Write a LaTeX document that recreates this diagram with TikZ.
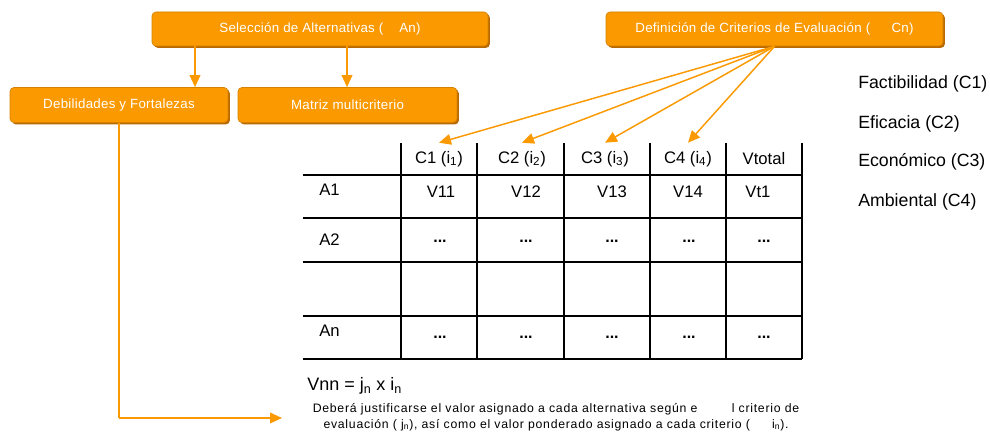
\documentclass[tikz,border=0pt]{standalone}
\usepackage{fontspec}
\setmainfont{Liberation Sans}
\usetikzlibrary{arrows.meta,calc,shadows}
\definecolor{org}{RGB}{250,153,0}
\definecolor{orgdark}{RGB}{185,105,0}
\begin{document}
\begin{tikzpicture}[x=0.75pt,y=-0.75pt,
  obox/.style={draw=org!85!black, line width=0.5pt, fill=org, rounded corners=3pt, text=white,
    font=\fontsize{10}{12}\selectfont\addfontfeatures{LetterSpace=2}, inner sep=0pt, minimum height=25.5pt,
    drop shadow={shadow xshift=1.4pt, shadow yshift=-1.4pt, fill=orgdark, opacity=1}},
  oarrow/.style={draw=org, line width=1.1pt, -{Triangle[length=9pt,width=8pt]}},
  oline/.style={draw=org, line width=1.1pt},
  grid/.style={draw=black, line width=1pt},
  cell/.style={inner sep=0pt, font=\fontsize{12.5}{14}\selectfont},
  dots/.style={inner sep=0pt, font=\fontsize{12}{14}\selectfont\bfseries},
  crit/.style={anchor=west, inner sep=0pt, font=\fontsize{13.3}{15}\selectfont},
  hdr/.style={cell, minimum height=24pt}
]
\useasboundingbox (0,0) rectangle (990,435);

% boxes
\node[obox, minimum width=252pt] (sel) at (320,29) {Selección de Alternativas (\hspace{1.2em}An)};
\node[obox, minimum width=252.75pt] (def) at (774.5,29) {Definición de Criterios de Evaluación (\hspace{1.6em}Cn)};
\node[obox, minimum width=163.5pt, minimum height=26.25pt] (deb) at (119,105) {Debilidades y Fortalezas};
\node[obox, minimum width=164.25pt, minimum height=26.25pt] (mat) at (347.5,105) {Matriz multicriterio};

% arrows from Selección
\coordinate (a1) at (195,0);
\coordinate (a2) at (347,0);
\draw[oarrow] (sel.south -| a1) -- (deb.north -| a1);
\draw[oarrow] (sel.south -| a2) -- (mat.north -| a2);

% table grid
\foreach \yy in {175,218,262,316,359} \draw[grid] (303,\yy) -- (802,\yy);
\foreach \xx in {401,477,564,650,726,802} \draw[grid] (\xx,143) -- (\xx,359);

% header
\node[hdr] (h1) at (439,159) {C1 (i\textsubscript{1})};
\node[hdr] (h2) at (522,159) {C2 (i\textsubscript{2})};
\node[hdr] (h3) at (605,159) {C3 (i\textsubscript{3})};
\node[hdr] (h4) at (688,159) {C4 (i\textsubscript{4})};
\node[hdr] (h5) at (764,159) {Vtotal};

% arrows from Definición
\draw[oarrow] (def.south) -- (h1.north);
\draw[oarrow] (def.south) -- (h2.north);
\draw[oarrow] (def.south) -- (h3.north);
\draw[oarrow] (def.south) -- (h4.north);

% rows
\node[cell, anchor=west] (ra1) at (319,190) {A1};
\node[cell] (v11) at (441,192) {V11};
\node[cell] (v12) at (526,192) {V12};
\node[cell] (v13) at (612,192) {V13};
\node[cell] (v14) at (688,192) {V14};
\node[cell] (vt1) at (758,192) {Vt1};

\node[cell, anchor=west] (ra2) at (319,240) {A2};
\node[dots] (d21) at (440,241) {...};
\node[dots] (d22) at (526,241) {...};
\node[dots] (d23) at (612,241) {...};
\node[dots] (d24) at (689,241) {...};
\node[dots] (d25) at (764,241) {...};

\node[cell, anchor=west] (ran) at (319,331) {An};
\node[dots] (dn1) at (440,337) {...};
\node[dots] (dn2) at (526,337) {...};
\node[dots] (dn3) at (612,337) {...};
\node[dots] (dn4) at (689,337) {...};
\node[dots] (dn5) at (764,337) {...};

% criteria list
\node[crit] (c1) at (858,84) {Factibilidad (C1)};
\node[crit] (c2) at (858,124) {Eficacia (C2)};
\node[crit] (c3) at (858,162) {Económico (C3)};
\node[crit] (c4) at (858,202) {Ambiental (C4)};

% formula and note
\node[anchor=west, inner sep=0pt, font=\fontsize{13.5}{16}\selectfont] (vnn) at (307,386) {Vnn = j\textsubscript{n} x i\textsubscript{n}};
\node[inner sep=0pt, align=center, font=\fontsize{9.2}{12}\selectfont\addfontfeatures{LetterSpace=6}] (note) at (556,417)
  {Deberá justificarse el valor asignado a cada alternativa según e\hspace{2.8em}l criterio de\\
   evaluación ( j\textsubscript{n}), así como el valor ponderado asignado a cada criterio (\hspace{1.8em}i\textsubscript{n}).};

% connector from Debilidades
\coordinate (tip) at (282,418);
\draw[oline] (deb.south) -- (deb.south |- tip);
\draw[oarrow] (deb.south |- tip) -- (tip);
\end{tikzpicture}
\end{document}
